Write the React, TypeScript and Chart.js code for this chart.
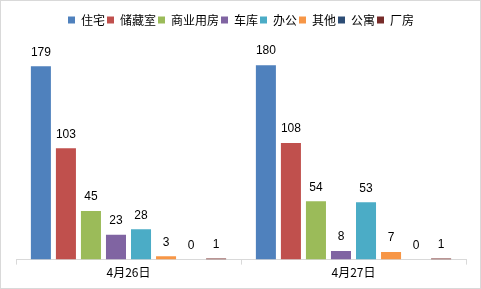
import React, { useEffect, useRef } from "react";
import { Chart, registerables } from "chart.js";

Chart.register(...registerables);

const categories = ["4月26日", "4月27日"];
const seriesNames = ["住宅", "储藏室", "商业用房", "车库", "办公", "其他", "公寓", "厂房"];
const seriesColors = ["#4F81BD", "#C0504D", "#9BBB59", "#8064A2", "#4BACC6", "#F79646", "#2C4D75", "#772C2A"];
const zhuzhai = [179, 180];
const chucangshi = [103, 108];
const shangye = [45, 54];
const cheku = [23, 8];
const bangong = [28, 53];
const qita = [3, 7];
const gongyu = [0, 0];
const changfang = [1, 1];
const seriesValues = [zhuzhai, chucangshi, shangye, cheku, bangong, qita, gongyu, changfang];

const FONT = "'Noto Sans CJK SC', 'DejaVu Sans', sans-serif";

const borderPlugin = {
  id: "outerBorder",
  afterDraw(chart: any) {
    const ctx = chart.ctx;
    ctx.save();
    ctx.strokeStyle = "#d9d9d9";
    ctx.lineWidth = 1;
    ctx.strokeRect(0.5, 0.5, chart.width - 1, chart.height - 1);
    ctx.restore();
  },
};

const labelPlugin = {
  id: "valueLabels",
  afterDatasetsDraw(chart: any) {
    const ctx = chart.ctx;
    ctx.save();
    ctx.fillStyle = "#000";
    ctx.font = "12px 'Liberation Sans', 'DejaVu Sans', sans-serif";
    ctx.textAlign = "center";
    ctx.textBaseline = "middle";
    chart.data.datasets.forEach((ds: any, i: number) => {
      const meta = chart.getDatasetMeta(i);
      meta.data.forEach((bar: any, j: number) => {
        ctx.fillText(String(ds.data[j]), bar.x, bar.y - 14);
      });
    });
    ctx.restore();
  },
};

export default function App() {
  const ref = useRef<HTMLCanvasElement>(null);
  useEffect(() => {
    document.body.style.margin = "0";
    const chart = new Chart(ref.current!, {
      type: "bar",
      data: {
        labels: categories,
        datasets: seriesNames.map((n, i) => ({
          label: n,
          data: seriesValues[i],
          backgroundColor: seriesColors[i],
          borderWidth: 0,
          categoryPercentage: 0.89,
          barPercentage: 0.8,
        })),
      },
      options: {
        animation: false,
        responsive: false,
        layout: { padding: { left: 16, right: 15, top: 12, bottom: 8 } },
        plugins: {
          legend: {
            position: "top",
            labels: {
              boxWidth: 7,
              boxHeight: 7,
              padding: 2,
              color: "#000",
              font: { size: 12, family: FONT },
            },
          },
          tooltip: { enabled: false },
        },
        scales: {
          x: {
            grid: {
              offset: true,
              drawOnChartArea: false,
              drawTicks: true,
              tickLength: 5,
              color: "#d9d9d9",
            },
            border: { display: true, color: "#d9d9d9" },
            ticks: { color: "#000", font: { size: 12, family: FONT }, padding: 1 },
          },
          y: {
            display: false,
            min: 0,
            max: 207,
          },
        },
      },
      plugins: [borderPlugin, labelPlugin],
    });
    return () => chart.destroy();
  }, []);
  return <canvas ref={ref} width={481} height={289} style={{ display: "block" }} />;
}
